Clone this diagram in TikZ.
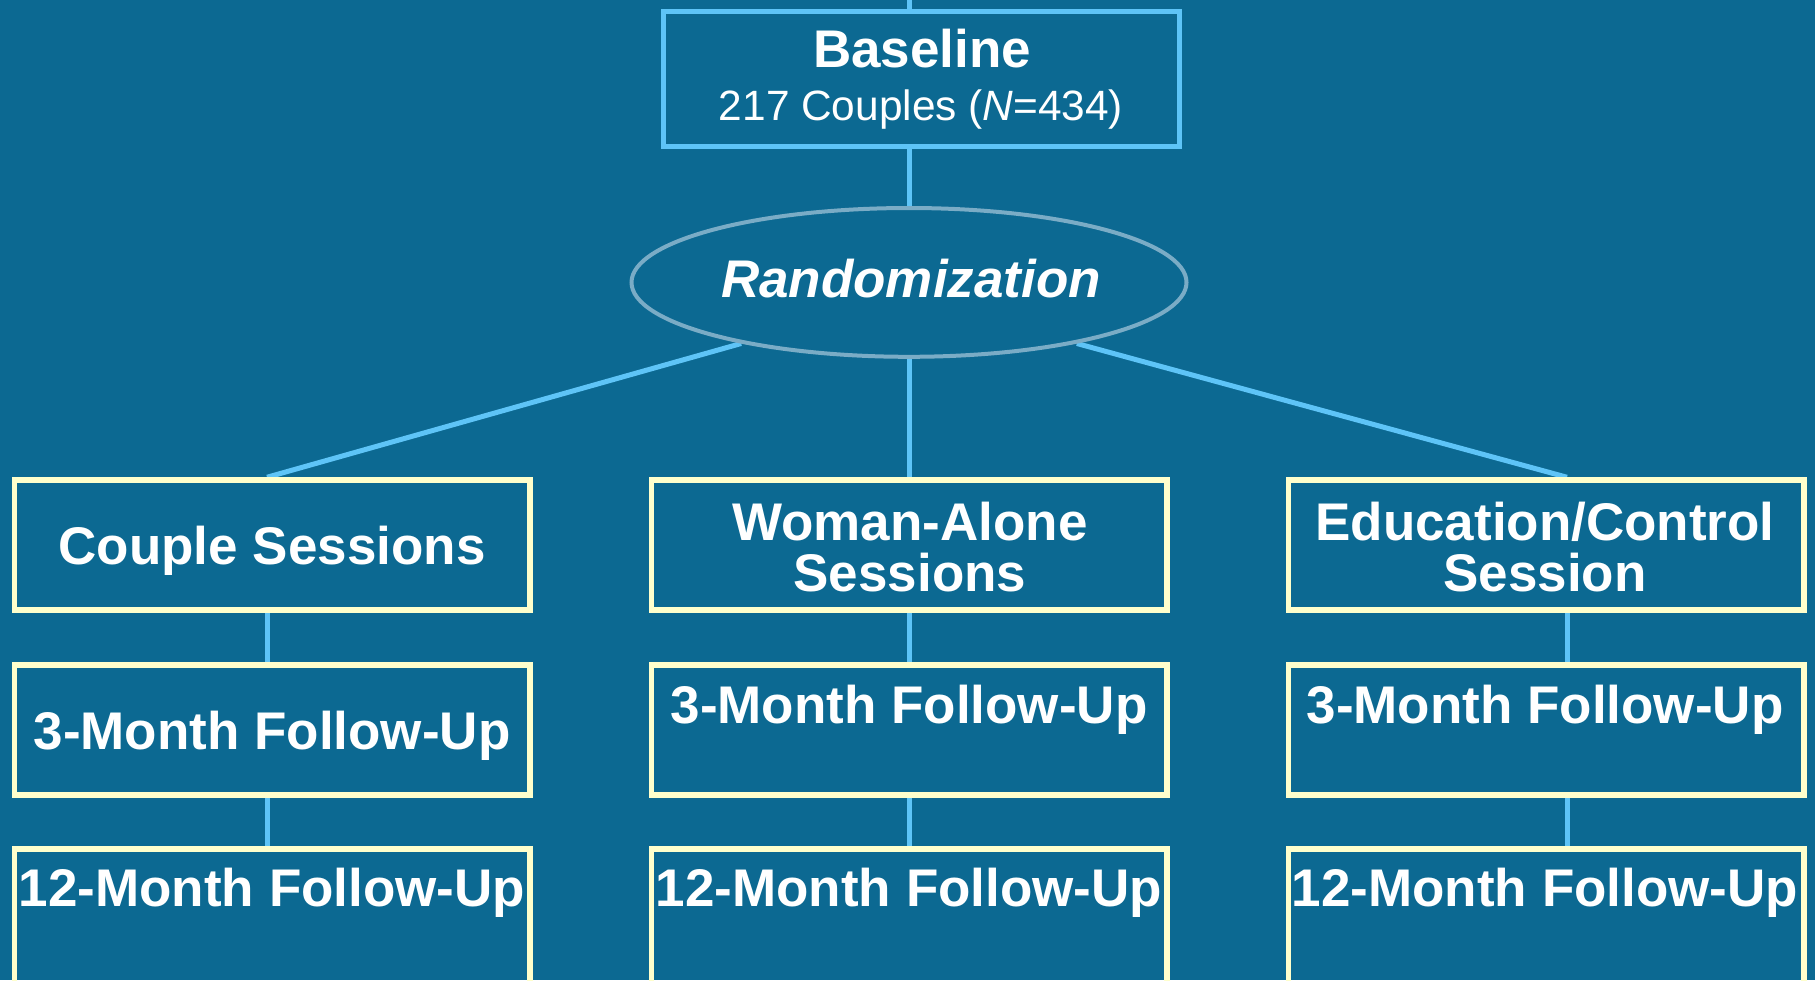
\documentclass[tikz,border=0pt]{standalone}
\usepackage{fontspec}
\setmainfont{Liberation Sans}
\usetikzlibrary{shapes.geometric}
\pgfdeclarelayer{bg}
\pgfsetlayers{bg,main}
\definecolor{bgteal}{RGB}{12,105,146}
\definecolor{lineblue}{RGB}{94,196,247}
\definecolor{cream}{RGB}{255,255,204}
\definecolor{ellgrey}{RGB}{122,172,198}
\tikzset{
  boxc/.style={draw=cream, line width=2.75pt, minimum width=257.75pt, minimum height=65pt, inner sep=0pt},
  boxlow/.style={boxc, minimum height=80pt},
  lbl/.style={text=white, font=\fontsize{26.5pt}{25.5pt}\selectfont\bfseries, inner sep=0pt, anchor=base, align=center},
  conn/.style={draw=lineblue, line width=2.5pt},
}
\begin{document}
\begin{tikzpicture}[x=0.5pt,y=-0.5pt]
\begin{pgfonlayer}{bg}
\fill[bgteal] (0,0) rectangle (1815,980);
\end{pgfonlayer}
\useasboundingbox (0,0) rectangle (1815,980);
% named column coordinates
\coordinate (top) at (909,0);
\coordinate (xl) at (267,0);
\coordinate (xm) at (909,0);
\coordinate (xr) at (1567,0);
% baseline box
\node[draw=lineblue, line width=2.5pt, minimum width=258pt, minimum height=67.5pt, inner sep=0pt] (base) at (921.5,79) {};
\node[lbl] (baseT) at (922,67) {Baseline};
\node[lbl, font=\fontsize{21.2pt}{24pt}\selectfont] (baseN) at (921,120) {217 Couples (\textit{N}=434)};
% randomization
\node[ellipse, draw=ellgrey, line width=2pt, minimum width=277.5pt, minimum height=74.4pt, inner sep=0pt] (rand) at (909,282.4) {};
\node[lbl, font=\fontsize{26.5pt}{25.5pt}\selectfont\bfseries\itshape] (randT) at (911,297.5) {Randomization};
% row 1
\node[boxc] (cs) at (272,545) {};
\node[boxc] (wa) at (909,545) {};
\node[boxc] (ec) at (1546,545) {};
\node[lbl] (csT) at (272,564) {Couple Sessions};
\node[lbl] (waT) at (910,591.5) {Woman-Alone\\Sessions};
\node[lbl] (ecT) at (1545,591.5) {Education/Control\\Session};
% row 2
\node[boxc] (l3) at (272,729.75) {};
\node[boxc] (m3) at (909,729.75) {};
\node[boxc] (r3) at (1546,729.75) {};
\node[lbl] (l3T) at (272,749) {3-Month Follow-Up};
\node[lbl] (m3T) at (909,723) {3-Month Follow-Up};
\node[lbl] (r3T) at (1545,723) {3-Month Follow-Up};
% row 3
\node[boxlow] (l12) at (272,928.75) {};
\node[boxlow] (m12) at (909,928.75) {};
\node[boxlow] (r12) at (1546,928.75) {};
\node[lbl] (l12T) at (272,906) {12-Month Follow-Up};
\node[lbl] (m12T) at (909,906) {12-Month Follow-Up};
\node[lbl] (r12T) at (1545,906) {12-Month Follow-Up};
% connectors
\begin{pgfonlayer}{bg}
\draw[conn] (top) -- (base.north -| top);
\draw[conn] (base.south -| rand.north) -- (rand.north);
\draw[conn] (rand.200) -- (cs.north -| xl);
\draw[conn] (rand.south) -- (wa.north);
\draw[conn] (rand.-20) -- (ec.north -| xr);
\draw[conn] (cs.south -| xl) -- (l3.north -| xl);
\draw[conn] (l3.south -| xl) -- (l12.north -| xl);
\draw[conn] (wa.south -| xm) -- (m3.north -| xm);
\draw[conn] (m3.south -| xm) -- (m12.north -| xm);
\draw[conn] (ec.south -| xr) -- (r3.north -| xr);
\draw[conn] (r3.south -| xr) -- (r12.north -| xr);
\end{pgfonlayer}
\end{tikzpicture}
\end{document}
